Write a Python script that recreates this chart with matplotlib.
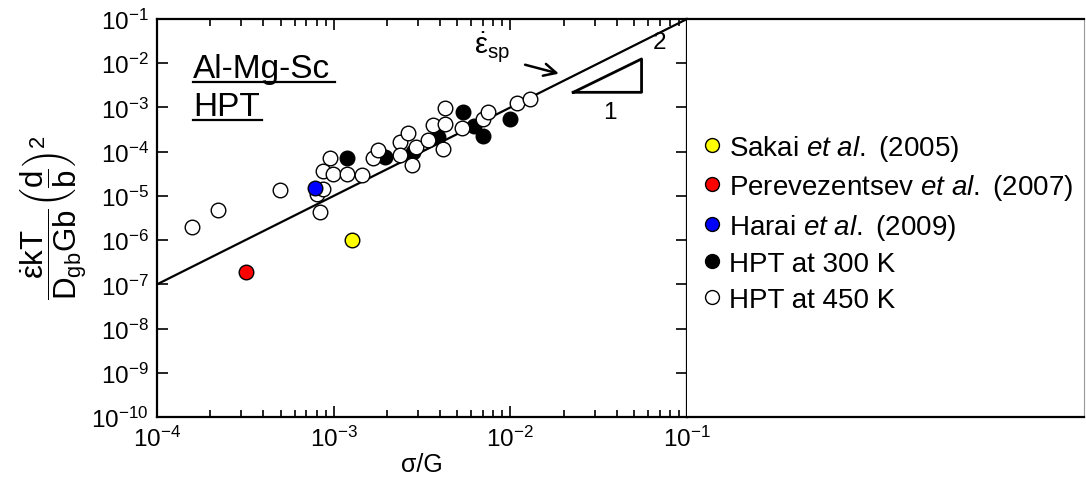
import numpy as np
import matplotlib
matplotlib.use("Agg")
from matplotlib import pyplot as plt
from matplotlib.lines import Line2D

plt.rcParams['font.family'] = ['Liberation Sans', 'DejaVu Sans']
plt.rcParams['mathtext.fontset'] = 'custom'
plt.rcParams['mathtext.rm'] = 'Liberation Sans'
plt.rcParams['mathtext.it'] = 'Liberation Sans:italic'
plt.rcParams['mathtext.bf'] = 'Liberation Sans:bold'
plt.rcParams['axes.unicode_minus'] = False

# dane
sakai_x = [1.27e-3]
sakai_y = [1.0e-6]
perev_x = [3.2e-4]
perev_y = [1.9e-7]
harai_x = [7.8e-4]
harai_y = [1.5e-5]

hpt300_x = [1.19e-3, 1.95e-3, 2.8e-3, 3.9e-3, 5.4e-3, 6.2e-3, 7.0e-3, 9.9e-3]
hpt300_y = [7.1e-5, 7.7e-5, 1.0e-4, 2.2e-4, 7.7e-4, 3.9e-4, 2.3e-4, 5.5e-4]

hpt450_x = [1.57e-4, 2.22e-4, 4.97e-4, 8.0e-4, 8.7e-4, 8.4e-4, 8.7e-4, 9.5e-4,
            9.9e-4, 1.19e-3, 1.44e-3, 1.67e-3, 1.79e-3, 2.37e-3, 2.64e-3, 2.37e-3,
            2.76e-3, 2.94e-3, 3.44e-3, 3.66e-3, 4.17e-3, 4.27e-3, 4.27e-3, 5.3e-3,
            7.0e-3, 7.5e-3, 1.09e-2, 1.29e-2]
hpt450_y = [2.0e-6, 4.9e-6, 1.35e-5, 1.1e-5, 1.4e-5, 4.4e-6, 3.7e-5, 7.2e-5,
            3.1e-5, 3.2e-5, 3.0e-5, 7.1e-5, 1.1e-4, 1.67e-4, 2.6e-4, 8.4e-5,
            5.0e-5, 1.29e-4, 1.83e-4, 4.0e-4, 1.14e-4, 9.5e-4, 4.2e-4, 3.5e-4,
            5.6e-4, 7.7e-4, 1.26e-3, 1.55e-3]

# linia ep_sp (nachylenie 2)
fit_x = [1e-4, 1e-1]
fit_y = [1e-7, 1e-1]

labels = ["Sakai $\\it{et\\ al.}$ (2005)",
          "Perevezentsev $\\it{et\\ al.}$ (2007)",
          "Harai $\\it{et\\ al.}$ (2009)",
          "HPT at 300 K",
          "HPT at 450 K"]
colors = ["#ffff00", "#ff0000", "#0000ff", "black", "white"]

fig = plt.figure(figsize=(10.86, 4.81), dpi=100)
ax = fig.add_axes([0.1446, 0.131, 0.488, 0.8274])

ms = 10.5
ax.plot(fit_x, fit_y, color="black", lw=1.6, zorder=2)
ax.plot(hpt300_x, hpt300_y, "o", ms=ms, mfc="black", mec="black", mew=1.0, zorder=3)
ax.plot(hpt450_x, hpt450_y, "o", ms=ms, mfc="white", mec="black", mew=1.0, zorder=4)
ax.plot(sakai_x, sakai_y, "o", ms=ms, mfc=colors[0], mec="black", mew=1.0, zorder=5)
ax.plot(perev_x, perev_y, "o", ms=ms, mfc=colors[1], mec="black", mew=1.0, zorder=5)
ax.plot(harai_x, harai_y, "o", ms=ms, mfc=colors[2], mec="black", mew=1.0, zorder=5)

ax.set_xscale("log")
ax.set_yscale("log")
ax.set_xlim(1e-4, 1e-1)
ax.set_ylim(1e-10, 1e-1)
ax.yaxis.set_major_locator(matplotlib.ticker.LogLocator(base=10, numticks=20))
ax.yaxis.set_minor_locator(matplotlib.ticker.NullLocator())
ax.tick_params(which="both", direction="in", top=True, right=True, width=1.2, labelsize=17.5)
ax.tick_params(which="major", length=8, pad=6)
ax.tick_params(which="minor", length=5)
for s in ax.spines.values():
    s.set_linewidth(1.6)

ax.set_xlabel("σ/G", fontsize=18, labelpad=1)
fig.text(0.05, 0.548,
         r"$\mathrm{\dfrac{\dot{ε}kT}{D_{gb}Gb}\left(\dfrac{d}{b}\right)^2}$",
         rotation=90, fontsize=22.5, ha="center", va="center")

# napis Al-Mg-Sc / HPT z podkresleniem
ax.text(0.068, (418 - 78) / 398, "Al-Mg-Sc", transform=ax.transAxes, fontsize=24, va="baseline")
ax.text(0.068, (418 - 116) / 398, "HPT", transform=ax.transAxes, fontsize=24, va="baseline")
ax.plot([0.068, 0.336], [(418 - 83) / 398] * 2, color="black", lw=1.6, transform=ax.transAxes)
ax.plot([0.068, 0.198], [(418 - 121) / 398] * 2, color="black", lw=1.6, transform=ax.transAxes)

# strzalka i trojkat nachylenia
ax.text(0.0079, 2.3e-2, r"$\mathrm{\dot{ε}_{sp}}$", fontsize=21, ha="center", va="center")
ax.annotate("", xy=(0.0195, 5.6e-3), xytext=(0.0117, 9.6e-3),
            arrowprops=dict(arrowstyle="->", lw=1.8, color="black", mutation_scale=22))
ax.plot([0.0227, 0.0553, 0.0553, 0.0227], [2.2e-3, 2.2e-3, 1.25e-2, 2.2e-3], color="black", lw=2.0)
ax.text(0.0367, 7.9e-4, "1", fontsize=17.5, ha="center", va="center")
ax.text(0.0703, 3.0e-2, "2", fontsize=17.5, ha="center", va="center")

# ramka po prawej
ax2 = fig.add_axes([0.6326, 0.131, 0.3656, 0.8274])
ax2.set_xticks([])
ax2.set_yticks([])
ax2.spines["left"].set_visible(False)
ax2.spines["top"].set_linewidth(1.6)
ax2.spines["bottom"].set_linewidth(1.6)
ax2.spines["right"].set_linewidth(0.8)
ax2.spines["right"].set_color("#999999")

handles = [Line2D([], [], ls="none", marker="o", ms=10, mfc=c, mec="black", mew=1.0) for c in colors]
fig.legend(handles, labels, loc="center left", bbox_to_anchor=(0.634, 0.535), frameon=False,
           fontsize=20, handlelength=0.7, handletextpad=0.25, labelspacing=0.34, borderpad=0)

plt.savefig("out.png", dpi=100)
plt.close()
